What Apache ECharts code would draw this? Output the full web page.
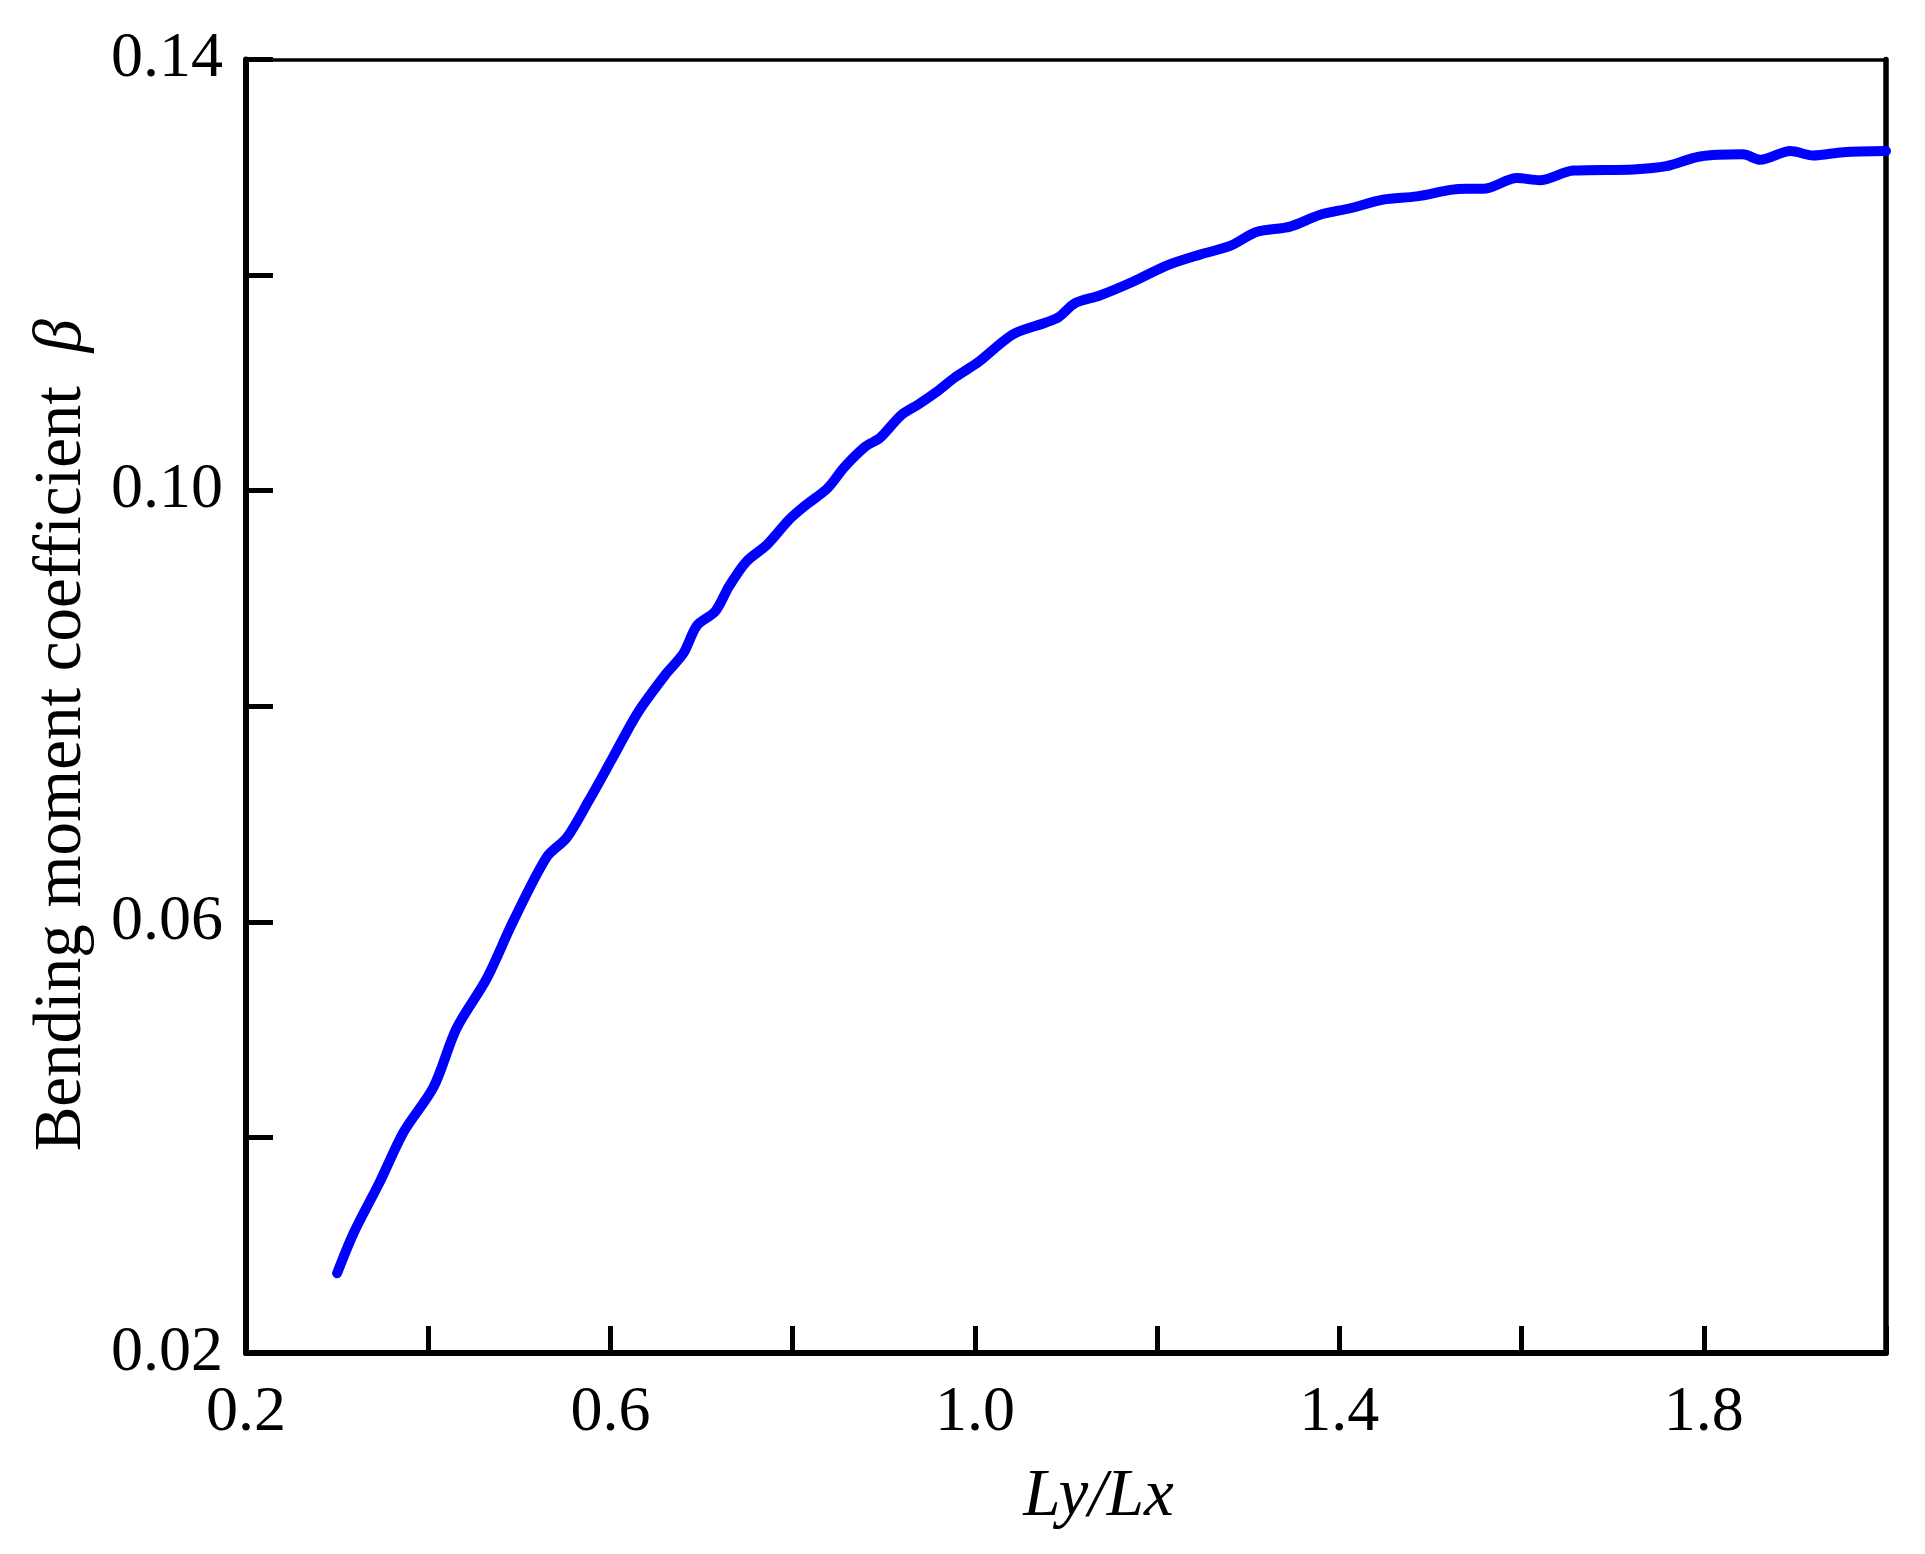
<!DOCTYPE html>
<html>
<head>
<meta charset="utf-8">
<script src="https://cdn.jsdelivr.net/npm/echarts@6/dist/echarts.min.js"></script>
<style>
html,body{margin:0;padding:0;background:#fff;}
#chart{width:1925px;height:1554px;}
</style>
</head>
<body>
<div id="chart"></div>
<script>
// Ly/Lx ratio values
const ratio = [0.300,0.318,0.347,0.373,0.406,0.431,0.464,0.493,0.530,0.552,0.576,0.603,0.630,0.661,0.680,0.695,0.715,0.730,0.749,0.772,0.796,0.815,0.838,0.857,0.880,0.896,0.919,0.938,0.957,0.978,1.005,1.026,1.044,1.078,1.092,1.110,1.137,1.174,1.211,1.247,1.280,1.309,1.346,1.379,1.412,1.448,1.485,1.522,1.540,1.558,1.595,1.620,1.657,1.723,1.759,1.796,1.843,1.862,1.895,1.920,1.953,2.000];
// bending moment coefficient beta
const beta = [0.0274,0.0311,0.0359,0.0405,0.0447,0.0501,0.0547,0.0600,0.0660,0.0678,0.0712,0.0753,0.0794,0.0830,0.0849,0.0875,0.0888,0.0911,0.0934,0.0950,0.0973,0.0987,0.1002,0.1022,0.1041,0.1049,0.1070,0.1080,0.1091,0.1105,0.1120,0.1135,0.1146,0.1156,0.1161,0.1174,0.1181,0.1194,0.1209,0.1219,0.1227,0.1240,0.1245,0.1256,0.1262,0.1270,0.1273,0.1279,0.1280,0.1280,0.1290,0.1288,0.1297,0.1298,0.1301,0.1310,0.1312,0.1307,0.1315,0.1311,0.1314,0.1315];
// tick labels shown
const xTickLabels = ['0.2','0.6','1.0','1.4','1.8'];
const yTickLabels = ['0.02','0.06','0.10','0.14'];

const points = ratio.map((x, i) => [x, beta[i]]);
const FONT = '"Liberation Serif", "Times New Roman", serif';

const chart = echarts.init(document.getElementById('chart'), null, {renderer: 'canvas'});
chart.setOption({
  backgroundColor: '#ffffff',
  animation: false,
  grid: {left: 246, right: 39, top: 59.5, bottom: 201, containLabel: false, outerBoundsMode: 'none'},
  xAxis: [{
    type: 'value', position: 'bottom', min: 0.2, max: 2.0, interval: 0.2,
    axisLine: {show: true, lineStyle: {color: '#000', width: 6}},
    axisTick: {show: true, inside: true, length: 27, lineStyle: {color: '#000', width: 5}},
    splitLine: {show: false},
    axisLabel: {
      color: '#000', fontFamily: FONT, fontSize: 64, margin: 28,
      showMinLabel: true, showMaxLabel: true,
      formatter: v => { const s = v.toFixed(1); return xTickLabels.includes(s) ? s : ''; }
    },
    name: 'Ly/Lx', nameLocation: 'middle', nameGap: 111,
    nameTextStyle: {color: '#000', fontFamily: FONT, fontSize: 67, fontStyle: 'italic', padding: [0, 0, 0, 65]}
  }, {
    type: 'value', position: 'top', min: 0.2, max: 2.0,
    axisLine: {show: true, lineStyle: {color: '#000', width: 3.5}},
    axisTick: {show: false}, axisLabel: {show: false}, splitLine: {show: false}
  }],
  yAxis: [{
    type: 'value', position: 'left', min: 0.02, max: 0.14, interval: 0.02,
    axisLine: {show: true, lineStyle: {color: '#000', width: 6}},
    axisTick: {show: true, inside: true, length: 27, lineStyle: {color: '#000', width: 5}},
    splitLine: {show: false},
    axisLabel: {
      color: '#000', fontFamily: FONT, fontSize: 64, margin: 23,
      showMinLabel: true, showMaxLabel: true,
      formatter: v => { const s = v.toFixed(2); return yTickLabels.includes(s) ? s : ''; }
    },
    name: 'Bending moment coefficient  {b|β}', nameLocation: 'middle', nameRotate: 90, nameGap: 150,
    nameTextStyle: {color: '#000', fontFamily: FONT, fontSize: 67, padding: [0, 58, 0, 0],
      rich: {b: {color: '#000', fontFamily: FONT, fontSize: 67, fontStyle: 'italic'}}}
  }, {
    type: 'value', position: 'right', min: 0.02, max: 0.14,
    axisLine: {show: true, lineStyle: {color: '#000', width: 5.5}},
    axisTick: {show: false}, axisLabel: {show: false}, splitLine: {show: false}
  }],
  series: [{
    type: 'line', xAxisIndex: 0, yAxisIndex: 0, data: points,
    showSymbol: false, smooth: 0.3, clip: false,
    lineStyle: {color: '#0000ff', width: 10, cap: 'round', join: 'round'}
  }]
});
</script>
</body>
</html>
